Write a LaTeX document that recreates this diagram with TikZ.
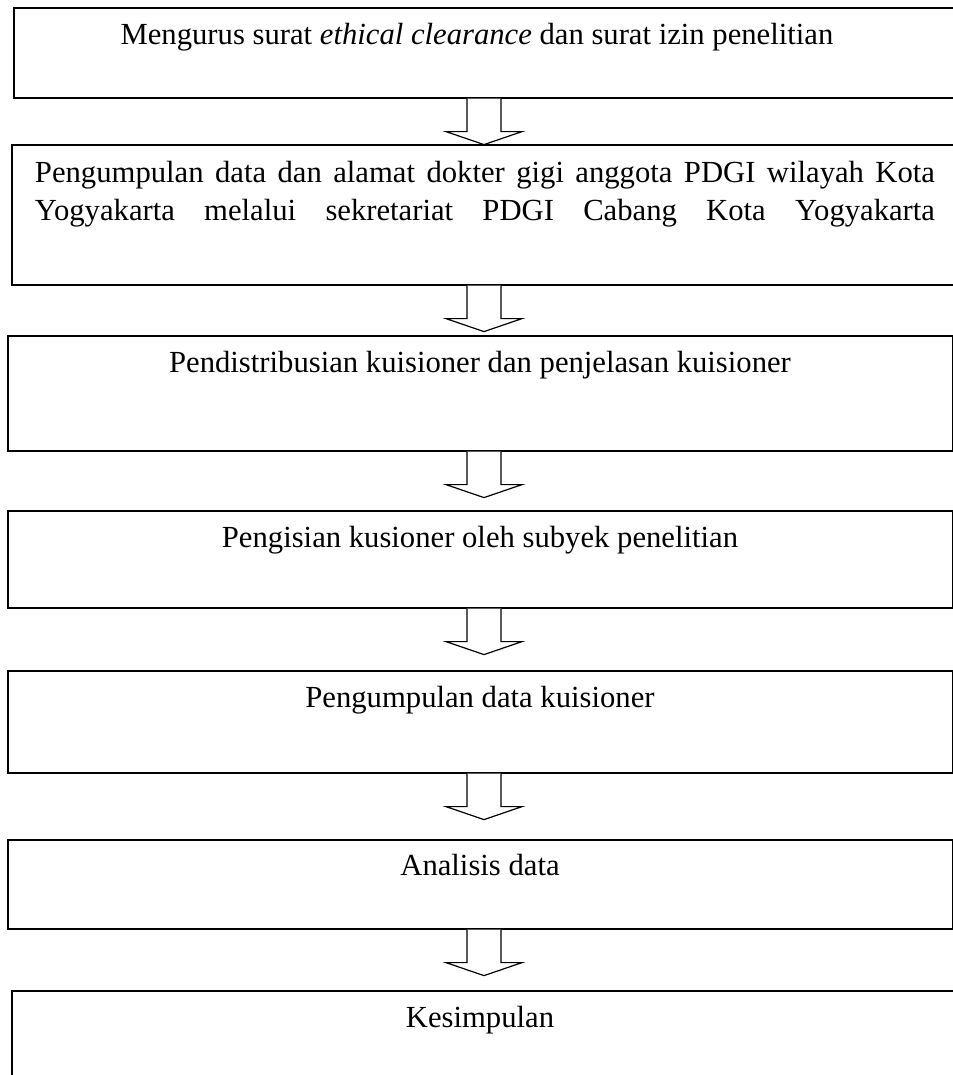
\documentclass[tikz,border=0pt]{standalone}
\usepackage{fontspec}
\setmainfont{Liberation Serif}
\usetikzlibrary{calc}
\tikzset{
  box/.style={draw=black, line width=1.2pt, fill=none, inner sep=0pt, anchor=north west},
  txt/.style={font=\fontsize{23pt}{29pt}\selectfont, inner sep=0pt, align=center},
  blockarrow/.style={draw=black, line width=0.9pt, fill=white, line join=miter}
}
\begin{document}
\begin{tikzpicture}[x=0.75pt,y=-0.75pt]
\useasboundingbox (0,0) rectangle (953,1075);
\clip (0,0) rectangle (953,1075);
\coordinate (ax) at (484,0);
% boxes
\node[box, minimum width=952*0.75pt, minimum height=90*0.75pt] (b1) at (13,7) {};
\node[box, minimum width=954*0.75pt, minimum height=140*0.75pt] (b2) at (11,144) {};
\node[box, minimum width=945*0.75pt, minimum height=115*0.75pt] (b3) at (7,335) {};
\node[box, minimum width=945*0.75pt, minimum height=97*0.75pt] (b4) at (7,510) {};
\node[box, minimum width=945*0.75pt, minimum height=102*0.75pt] (b5) at (7,670) {};
\node[box, minimum width=945*0.75pt, minimum height=89*0.75pt] (b6) at (7,839) {};
\node[box, minimum width=954*0.75pt, minimum height=110*0.75pt] (b7) at (11,990) {};
% texts
\node[txt] (t1) at (477,37) {Mengurus surat \textit{ethical clearance} dan surat izin penelitian};
\node[txt] (t2) at (485,194) {\makebox[675pt][s]{Pengumpulan data dan alamat dokter gigi anggota PDGI wilayah Kota}\\\makebox[675pt][s]{Yogyakarta melalui sekretariat PDGI Cabang Kota Yogyakarta}};
\node[txt] (t3) at (480,365) {Pendistribusian kuisioner dan penjelasan kuisioner};
\node[txt] (t4) at (480,540) {Pengisian kusioner oleh subyek penelitian};
\node[txt] (t5) at (480,700) {Pengumpulan data kuisioner};
\node[txt] (t6) at (480,865) {Analisis data};
\node[txt] (t7) at (480,1020) {Kesimpulan};
% block arrows
\foreach \b in {b1,b2,b3,b4,b5,b6}{
  \draw[blockarrow] (\b.south -| ax) ++(-17,0) -- ++(0,33) -- ++(-21,0) -- ++(38,13) -- ++(38,-13) -- ++(-21,0) -- ++(0,-33);
}
\end{tikzpicture}
\end{document}
